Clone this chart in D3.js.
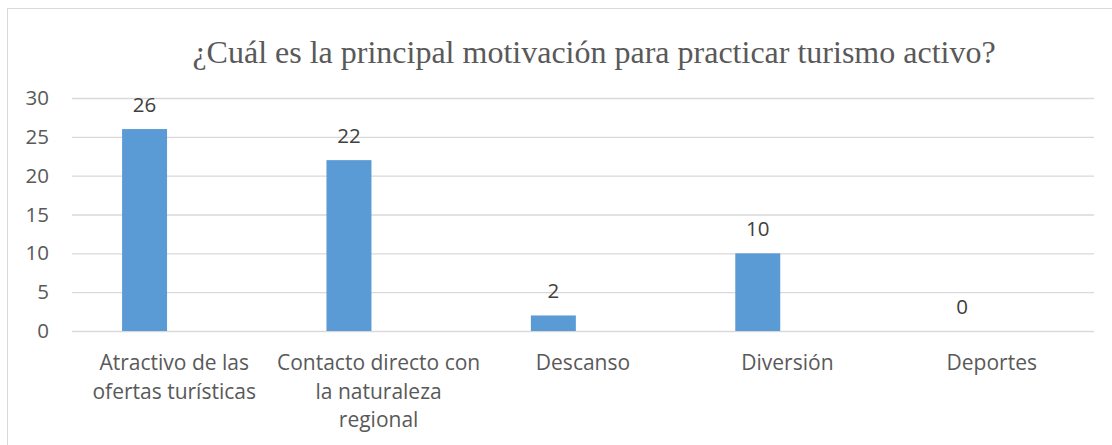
<!DOCTYPE html>
<html>
<head>
<meta charset="utf-8">
<script src="https://cdn.jsdelivr.net/npm/d3@7"></script>
<style>
  body { margin: 0; background: #fff; }
  svg { display: block; }
</style>
</head>
<body>
<script>
// chart values
var title = "¿Cuál es la principal motivación para practicar turismo activo?";
var categories = ["Atractivo de las ofertas turísticas", "Contacto directo con la naturaleza regional", "Descanso", "Diversión", "Deportes"];
var catLines = [["Atractivo de las", "ofertas turísticas"], ["Contacto directo con", "la naturaleza", "regional"], ["Descanso"], ["Diversión"], ["Deportes"]];
var values = [26, 22, 2, 10, 0];
var yTicks = [0, 5, 10, 15, 20, 25, 30];

function drawChart() {
    var width = 1112;
    var height = 445;
    var left = 72, right = 1094, top = 98, bottom = 331;

    var svg = d3.select("body")
                .append("svg")
                .attr("width", width)
                .attr("height", height);

    // outer frame of the chart area
    svg.append("rect")
        .attr("x", 7.5)
        .attr("y", 8.5)
        .attr("width", 1200)
        .attr("height", 600)
        .attr("fill", "#fff")
        .attr("stroke", "#d9d9d9")
        .attr("stroke-width", 1);

    var xScale = d3.scaleBand()
                    .domain(categories)
                    .range([left, right]);

    var yScale = d3.scaleLinear()
                    .domain([0, 30])
                    .range([bottom, top]);

    // gridlines + y labels
    var yAxis = svg.append("g")
                    .attr("class", "y axis")
                    .attr("transform", "translate(" + left + ",0)")
                    .call(d3.axisLeft(yScale)
                            .tickValues(yTicks)
                            .tickSize(-(right - left))
                            .tickPadding(23));
    yAxis.select(".domain").remove();
    yAxis.selectAll(".tick line")
        .attr("stroke", "#d9d9d9")
        .attr("stroke-width", 1.3);
    yAxis.selectAll(".tick text")
        .attr("fill", "#595959")
        .style("font-family", "'Open Sans', sans-serif")
        .style("font-size", "20.5px");

    // bars
    svg.selectAll("rect.bar")
        .data(values)
        .enter()
        .append("rect")
        .attr("class", "bar")
        .attr("x", function(d, i) { return xScale(categories[i]) + xScale.bandwidth() * 0.245; })
        .attr("y", function(d) { return yScale(d); })
        .attr("width", xScale.bandwidth() * 0.22)
        .attr("height", function(d) { return yScale(0) - yScale(d); })
        .attr("fill", "#5b9bd5");

    // value labels
    svg.selectAll("text.value")
        .data(values)
        .enter()
        .append("text")
        .attr("class", "value")
        .attr("x", function(d, i) { return xScale(categories[i]) + xScale.bandwidth() * 0.355; })
        .attr("y", function(d) { return yScale(d) - 17; })
        .attr("text-anchor", "middle")
        .attr("fill", "#404040")
        .style("font-family", "'Open Sans', sans-serif")
        .style("font-size", "20.5px")
        .text(function(d) { return d; });

    // category labels
    var catG = svg.selectAll("text.cat")
        .data(catLines)
        .enter()
        .append("text")
        .attr("class", "cat")
        .attr("text-anchor", "middle")
        .attr("fill", "#595959")
        .style("font-family", "'Open Sans', sans-serif")
        .style("font-size", "21px");

    catG.each(function(lines, i) {
        var t = d3.select(this);
        lines.forEach(function(l, j) {
            t.append("tspan")
                .attr("x", xScale(categories[i]) + xScale.bandwidth() / 2)
                .attr("y", 370 + j * 28.5)
                .text(l);
        });
    });

    // title
    svg.append("text")
        .attr("x", 594)
        .attr("y", 63)
        .attr("text-anchor", "middle")
        .attr("fill", "#595959")
        .style("font-family", "'Liberation Serif', 'Times New Roman', serif")
        .style("font-size", "32px")
        .text(title);
}

window.onload = function() {
    drawChart();
};
</script>
</body>
</html>
